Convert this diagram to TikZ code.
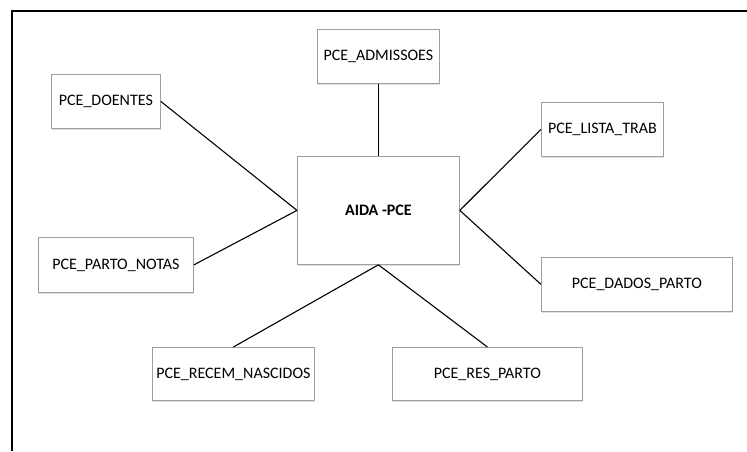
\documentclass[tikz,border=0pt]{standalone}
\usepackage{fontspec}
\setmainfont{Carlito}
\usetikzlibrary{shadows}
\begin{document}
\begin{tikzpicture}[x=1pt,y=-1pt,
  table/.style={draw=black!38, line width=0.8pt, fill=white, font=\fontsize{16}{18}\selectfont,
    inner sep=0pt, anchor=north west,
    drop shadow={shadow xshift=0.6pt, shadow yshift=-1.6pt, fill=blue!25!black!20, opacity=0.6}},
  link/.style={draw=black, line width=1.1pt}]
\useasboundingbox (0,0) rectangle (747,451);
% page frame (top and left edges only)
\draw[line width=1.8pt] (12,451) -- (12,11) -- (747,11);

% central entity
\node[table, minimum width=162pt, minimum height=108pt, font=\fontsize{16}{18}\selectfont\bfseries]
  (aida) at (297,156) {AIDA -PCE};

% related tables
\node[table, minimum width=122pt, minimum height=54pt] (adm)   at (317,29)  {PCE\_ADMISSOES};
\node[table, minimum width=109pt, minimum height=54pt] (doe)   at (51,74)   {PCE\_DOENTES};
\node[table, minimum width=122pt, minimum height=54pt] (lista) at (541,102) {PCE\_LISTA\_TRAB};
\node[table, minimum width=155pt, minimum height=55pt] (notas) at (38,237)  {PCE\_PARTO\_NOTAS};
\node[table, minimum width=191pt, minimum height=54pt] (dados) at (541,257) {PCE\_DADOS\_PARTO};
\node[table, minimum width=162pt, minimum height=53pt] (recem) at (152,347) {PCE\_RECEM\_NASCIDOS};
\node[table, minimum width=190pt, minimum height=53pt] (res)   at (392,347) {PCE\_RES\_PARTO};

% connectors
\draw[link] (adm.south) -- (aida.north);
\draw[link] (doe.east) -- (aida.west);
\draw[link] (notas.east) -- (aida.west);
\draw[link] (aida.east) -- (lista.west);
\draw[link] (aida.east) -- (dados.west);
\draw[link] (aida.south) -- (recem.north);
\draw[link] (aida.south) -- (res.north);
\end{tikzpicture}
\end{document}
